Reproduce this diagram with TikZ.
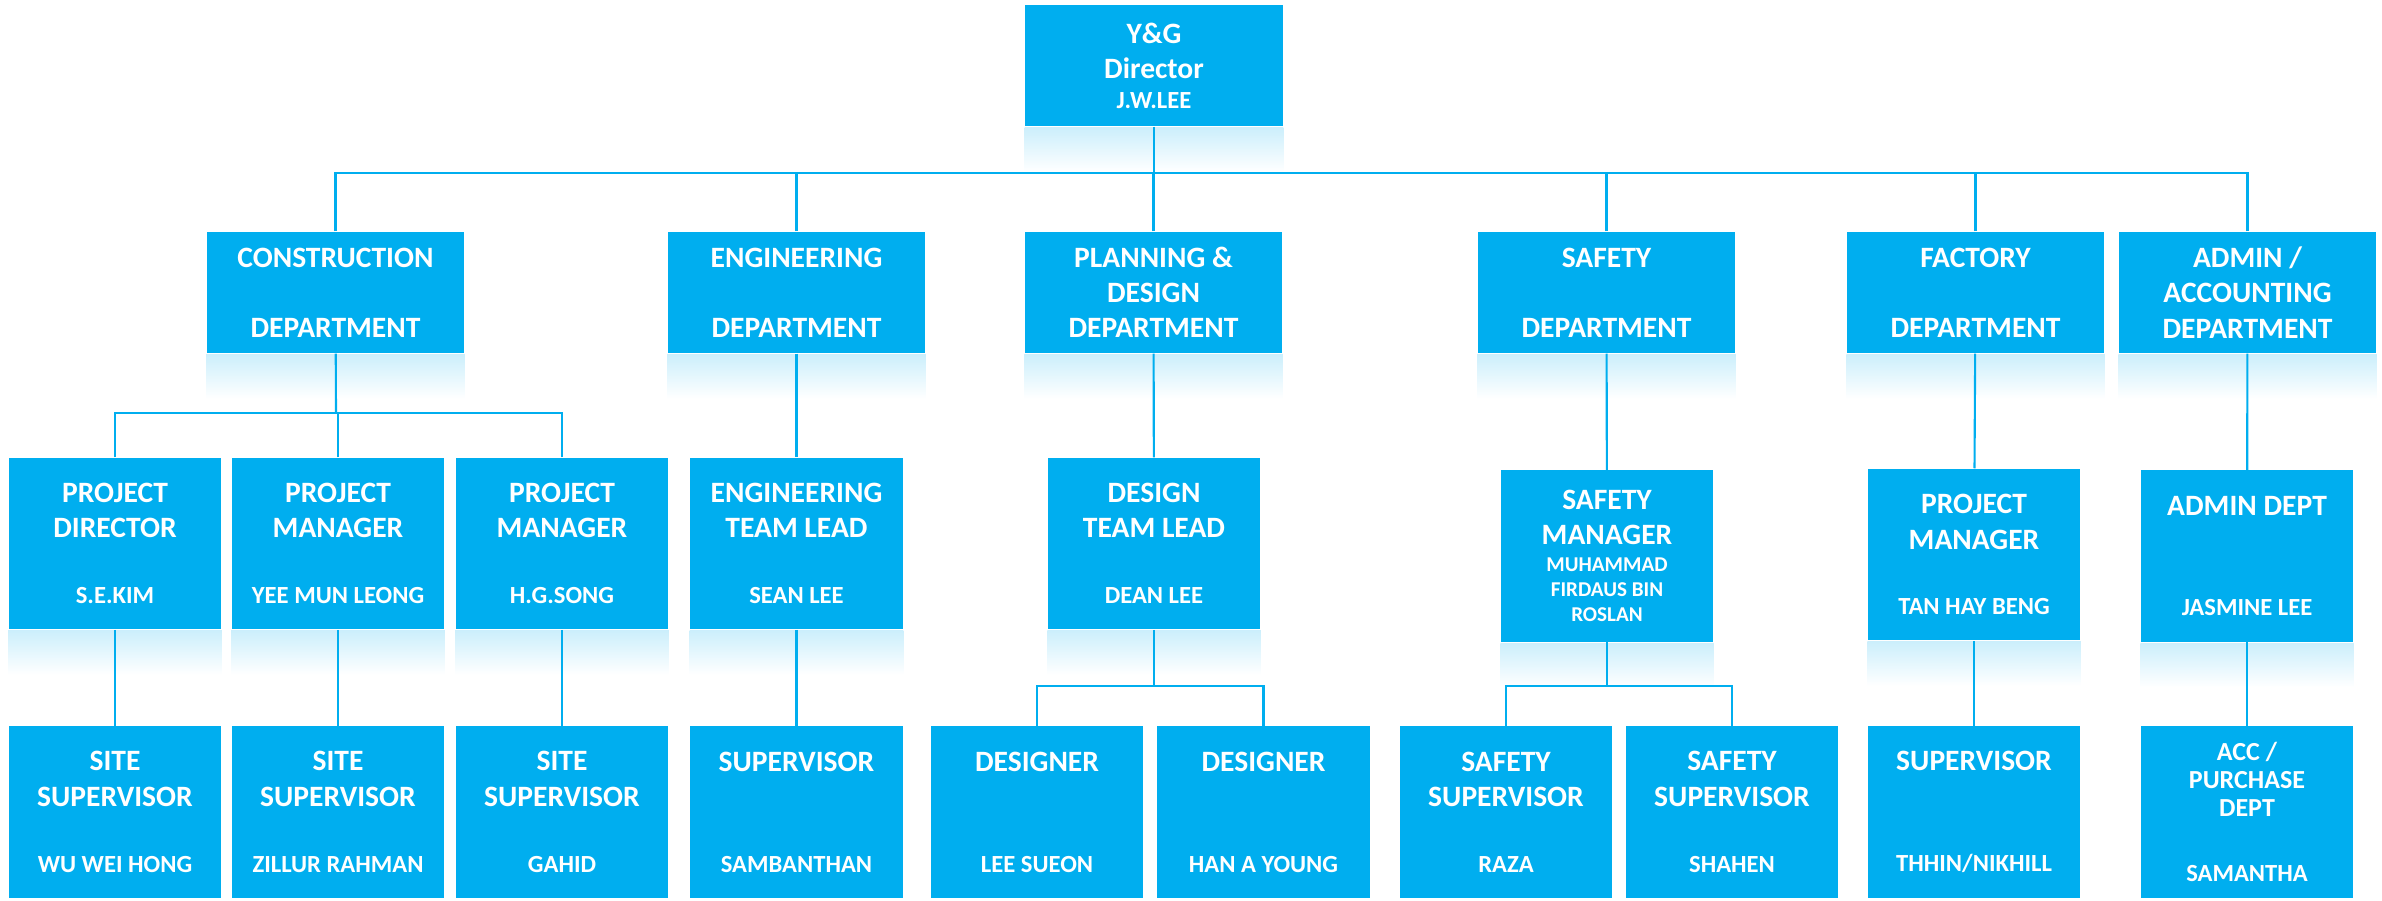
\documentclass[tikz,border=0pt]{standalone}
\usepackage{fontspec}
\setmainfont{Carlito}
\definecolor{ygblue}{HTML}{00AEEF}
\newcommand\titlefont{\fontsize{8.4}{10}\selectfont\bfseries}
\newcommand\namefont{\fontsize{7}{8}\selectfont\bfseries}
\newcommand\smallname{\fontsize{6}{7}\selectfont\bfseries}
\newcommand\accfont{\fontsize{7.4}{8}\selectfont\bfseries}
\begin{document}
\begin{tikzpicture}[x=0.01cm,y=-0.01cm,
		unitbox/.style={fill=ygblue,text=white,align=center,inner sep=0pt,font=\titlefont},
		deptbox/.style={unitbox,minimum width=2.57cm,minimum height=1.21cm},
		staffbox/.style={unitbox,minimum width=2.12cm,minimum height=1.71cm},
		link/.style={draw=ygblue,line width=0.6pt},
		glow/.style={top color=ygblue!20,bottom color=white,draw=none}]
			\useasboundingbox (0,0) rectangle (2382,900);
			%			Giám đốc
			\node[deptbox] (dir) at (1154,65.5) {Y\&G\\Director\\[-1.5pt]{\namefont J.W.LEE}};
			%			Phòng ban
			\node[deptbox] (cons) at (335.5,292.5) {CONSTRUCTION\\[10pt]DEPARTMENT};
			\node[deptbox] (eng) at (796.5,292.5) {ENGINEERING\\[10pt]DEPARTMENT};
			\node[deptbox] (plan) at (1153.5,292.5) {PLANNING \&\\DESIGN\\DEPARTMENT};
			\node[deptbox] (safe) at (1606.5,292.5) {SAFETY\\[10pt]DEPARTMENT};
			\node[deptbox] (fact) at (1975.5,292.5) {FACTORY\\[10pt]DEPARTMENT};
			\node[deptbox] (adm) at (2247.5,292.5) {ADMIN /\\ACCOUNTING\\DEPARTMENT};
			%			Quản lý
			\node[staffbox] (pd) at (115,543.5) {PROJECT\\DIRECTOR\\[8.8pt]{\namefont S.E.KIM}};
			\node[staffbox] (pm1) at (338,543.5) {PROJECT\\MANAGER\\[8.8pt]{\namefont YEE MUN LEONG}};
			\node[staffbox] (pm2) at (562,543.5) {PROJECT\\MANAGER\\[8.8pt]{\namefont H.G.SONG}};
			\node[staffbox] (englead) at (796.5,543.5) {ENGINEERING\\TEAM LEAD\\[8.8pt]{\namefont SEAN LEE}};
			\node[staffbox] (deslead) at (1154,543.5) {DESIGN\\TEAM LEAD\\[8.8pt]{\namefont DEAN LEE}};
			\node[staffbox] (safemgr) at (1607,556) {SAFETY\\MANAGER\\[-2.3pt]{\smallname MUHAMMAD}\\[-2.9pt]{\smallname FIRDAUS BIN}\\[-2.9pt]{\smallname ROSLAN}};
			\node[staffbox] (fpm) at (1974,554.5) {PROJECT\\MANAGER\\[8.5pt]{\namefont TAN HAY BENG}};
			\node[staffbox] (admdept) at (2247,556) {ADMIN DEPT\\[18.5pt]{\namefont JASMINE LEE}};
			%			Nhân viên
			\node[staffbox] (ss1) at (115,812) {SITE\\SUPERVISOR\\[8.8pt]{\namefont WU WEI HONG}};
			\node[staffbox] (ss2) at (338,812) {SITE\\SUPERVISOR\\[8.8pt]{\namefont ZILLUR RAHMAN}};
			\node[staffbox] (ss3) at (562,812) {SITE\\SUPERVISOR\\[8.8pt]{\namefont GAHID}};
			\node[staffbox] (engsup) at (796.5,812) {SUPERVISOR\\[18.7pt]{\namefont SAMBANTHAN}};
			\node[staffbox] (des1) at (1037,812) {DESIGNER\\[18.7pt]{\namefont LEE SUEON}};
			\node[staffbox] (des2) at (1263.5,812) {DESIGNER\\[18.7pt]{\namefont HAN A YOUNG}};
			\node[staffbox] (sfs1) at (1506,812) {SAFETY\\SUPERVISOR\\[8.8pt]{\namefont RAZA}};
			\node[staffbox] (sfs2) at (1732,812) {SAFETY\\SUPERVISOR\\[8.8pt]{\namefont SHAHEN}};
			\node[staffbox] (fsup) at (1974,812) {SUPERVISOR\\[18.7pt]{\namefont THHIN/NIKHILL}};
			\node[staffbox] (acc) at (2247,812) {{\accfont ACC /}\\[-2pt]{\accfont PURCHASE}\\[-2pt]{\accfont DEPT}\\[8.5pt]{\namefont SAMANTHA}};
			%			Bóng mờ
			\foreach \n in {dir,cons,eng,plan,safe,fact,adm,pd,pm1,pm2,englead,deslead,safemgr,fpm,admdept}
				\shade[glow] ([yshift=-0.3pt]\n.south west) rectangle ([yshift=-0.45cm]\n.south east);
			%			Đường nối
			\coordinate (bus) at (1154,173);
			\draw[link] (dir) -- (bus);
			\foreach \d in {cons,eng,plan,safe,fact,adm}
				\draw[link] (\d.north) |- (bus);
			\coordinate (cbus) at (336,413);
			\draw[link] (cons) -- (cbus);
			\foreach \p in {pd,pm1,pm2}
				\draw[link] (\p.north) |- (cbus);
			\foreach \a/\b in {eng/englead,plan/deslead,safe/safemgr,fact/fpm,adm/admdept,pd/ss1,pm1/ss2,pm2/ss3,englead/engsup,fpm/fsup,admdept/acc}
				\draw[link] (\a) -- (\b);
			\coordinate (dbus) at (1154,686);
			\draw[link] (deslead) -- (dbus);
			\foreach \p in {des1,des2}
				\draw[link] (\p.north) |- (dbus);
			\coordinate (sbus) at (1607,686);
			\draw[link] (safemgr) -- (sbus);
			\foreach \p in {sfs1,sfs2}
				\draw[link] (\p.north) |- (sbus);
		\end{tikzpicture}
\end{document}
